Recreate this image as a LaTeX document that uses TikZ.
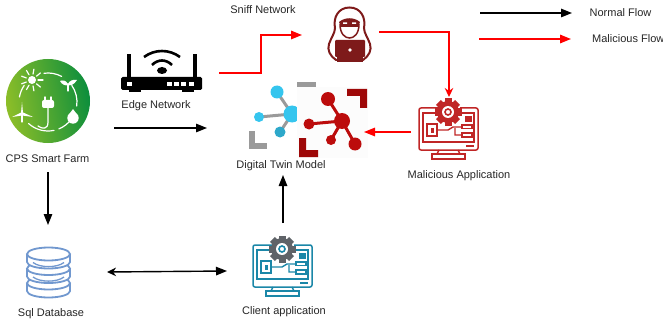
\documentclass[tikz,border=0pt]{standalone}
\usepackage{fontspec}
\setmainfont{Liberation Sans}
\usepackage{xcolor}
\usetikzlibrary{arrows.meta}
\definecolor{attackred}{HTML}{FF0000}
\definecolor{darkhood}{HTML}{7E1A1A}
\definecolor{twinblue}{HTML}{35C5EE}
\definecolor{twinred}{HTML}{BC0C0C}
\definecolor{cornerred}{HTML}{9E0808}
\definecolor{cornergray}{HTML}{9A9A9A}
\definecolor{dbblue}{HTML}{7198CF}
\definecolor{clientblue}{HTML}{1B87A8}
\definecolor{gearsgray}{HTML}{5F6368}
\definecolor{malred}{HTML}{C02626}
\definecolor{farmlight}{HTML}{8DBE28}
\definecolor{farmdark}{HTML}{0C8E3C}
\tikzset{%
  tipA/.tip={Triangle[length=11pt,width=8.5pt]},
  tipB/.tip={Stealth[length=9pt,width=8.5pt]},
  flow/.style={black,line width=1.4pt,-tipA},
  badflow/.style={attackred,line width=1.5pt,-tipA},
  lbl/.style={text=black!85,font=\fontsize{11}{13}\selectfont,inner sep=0pt},
  pics/appicon/.style 2 args={code={
    % monitor with the gear on top, origin is its top left corner
    \draw[#1,line width=1.5pt,rounded corners=2pt] (20,1) -- (1,1) -- (1,43) -- (60,43) -- (60,1) -- (42,1);
    \draw[#1,line width=1.5pt] (18,6) -- (5,6) -- (5,35) -- (56,35) -- (56,6) -- (44,6) (48,39) -- (56,39);
    \draw[#1,line width=1.8pt] (9,17) rectangle (19,29);
    \fill[#1] (12.5,21) rectangle (15.5,26);
    \draw[#1,line width=1.4pt] (19,23) -- (30,23) -- (35,20) -- (44,20) (37,21) -- (37,28) -- (44,28);
    \draw[#1,line width=1.4pt] (44,18) rectangle (54,21.5) (44,26) rectangle (54,30);
    \fill[#1] (47,9) rectangle (54,15);
    \draw[#1,line width=1.5pt] (21,43) -- (19,47) (40,43) -- (42,47);
    \draw[#1,line width=1.8pt] (14,47) rectangle (47,52);
    \foreach \a in {0,45,...,315}
      \fill[#2,rotate around={\a:(30,5)}] (26.5,-8.5) rectangle (33.5,5);
    \fill[#2] (30,5) circle (11);
    \fill[white] (30,5) circle (6);
    \draw[#1,line width=1.6pt] (30,5) circle (3);
  }},
}

\begin{document}
\begin{tikzpicture}[x=1pt,y=-1pt]
\useasboundingbox (0,0) rectangle (663,326);
% smart farm
\shade[left color=farmlight,right color=farmdark,shading angle=100] (48,101) circle (42);
\begin{scope}[white,line width=1.2pt,line cap=round]
\foreach \s/\e in {-98/-62,-35/8,35/68,78/132,-170/-145} \draw (48,102) ++(\s:29) arc[start angle=\s,end angle=\e,radius=29];
\fill (32,80) circle (4);
\foreach \a in {0,40,...,320} \draw (32,80) ++(\a:6) -- ++(\a:5);
\fill (68,84) .. controls (66,80) and (62,80) .. (60,81) .. controls (62,85) and (66,86) .. (68,85) .. controls (70,86) and (74,85) .. (77,80) .. controls (73,79) and (69,81) .. (68,84) -- cycle;
\draw (68,84) -- (68,91);
\fill[rounded corners=2pt] (42,100) rectangle (54,108);
\draw[line width=1.4pt] (45,97) -- (45,100) (51,97) -- (51,100);
\draw[line width=1.2pt] (48,108) -- (48,122) .. controls (48,130) and (42,129) .. (38,126);
\fill (22,102) -- (23,113) -- (21,113) -- cycle;
\fill (12,117) -- (22,112) -- (33,117) -- (22,115.5) -- cycle;
\draw (22,114) -- (22,122);
\fill (73,109) -- (67.8,116) -- (78.2,116) -- cycle;
\fill (73,118) circle (5.7);
\end{scope}
\node[lbl] (farmlabel) at (47.5,159) {CPS Smart Farm};
% router
\fill[black,rounded corners=1.5pt] (121,77) rectangle (202,90);
\fill (127,54) rectangle (131,78);
\fill (193,54) rectangle (197,78);
\fill (129,90) rectangle (141,92);
\fill (182,90) rectangle (194,92);
\fill[white] (127,82) rectangle (132,86);
\foreach \x in {167,174,181,189} \fill[white] (\x,82) rectangle (\x+5,86);
\fill (162,70.5) ellipse (5 and 3.5);
\draw[line width=2.6pt] (144,57) .. controls (155,49) and (169,49) .. (180,57);
\draw[line width=2.6pt] (152,65) .. controls (158,59) and (166,59) .. (172,65);
\node[lbl] (edgelabel) at (156,106) {Edge Network};
% twin model, blue half under the red one
\draw[cornergray,line width=6.5pt] (252,131) -- (252,146) -- (267,146);
\fill[cornergray] (297,82) rectangle (316,87);
\draw[cornergray,line width=3pt] (277,92) -- (292,114) -- (259,117) (292,114) -- (280,132);
\fill[twinblue] (292,114) circle (8.5) (277,92) circle (6.5) (259,117) circle (5);
\fill[twinblue!85!black] (280,132) circle (5.5);
\fill[black!1] (297,87) rectangle (368,158);
\fill[cornerred] (347,89) -- (367,89) -- (367,108) -- (360,108) -- (360,96) -- (347,96) -- cycle;
\fill[cornerred] (299,138) -- (306,138) -- (306,150) -- (318,150) -- (318,157) -- (299,157) -- cycle;
\draw[twinred,line width=3pt] (328,99) -- (342,121) -- (309,124) (342,121) -- (331,140) (342,121) -- (355,144);
\fill[twinred] (342,121) circle (8) (328,99) circle (7) (309,124) circle (5.5) (331,140) circle (5) (355,144) circle (6.5);
\node[lbl] (twinlabel) at (281,166) {Digital Twin Model};
% attacker
\begin{scope}[darkhood]
\draw[line width=2pt,fill=white] (349.5,7.5) .. controls (338,7.5) and (333,18) .. (335,28) .. controls (335,33) and (331,38) .. (329,44) .. controls (327,50) and (330,56) .. (336,60) -- (363,60) .. controls (369,56) and (372,50) .. (370,44) .. controls (368,38) and (364,33) .. (364,28) .. controls (366,18) and (361,7.5) .. (349.5,7.5) -- cycle;
\draw[line width=1.5pt] (340,24) .. controls (340,34) and (345,38) .. (349.5,38) .. controls (354,38) and (359,34) .. (359,24);
\fill (339,22) .. controls (345,17) and (354,17) .. (360,22) -- (358,27) -- (341,27) -- cycle;
\fill[white] (343,22.5) rectangle (347,24) (352,22.5) rectangle (356,24);
\fill[rounded corners=1pt] (335,40) rectangle (365,57);
\fill (337,57) rectangle (363,62);
\fill[white] (350,50) circle (1.8);
\end{scope}
% the two applications
\pic at (418,107) {appicon={malred}{malred}};
\pic at (252,244) {appicon={clientblue}{gearsgray}};
\node[lbl] (mallabel) at (459,176) {Malicious Application};
\node[lbl] (clientlabel) at (284,312) {Client application};
% database
\begin{scope}[dbblue,line width=1.8pt]
\foreach \y in {283,268.5,254} {
  \draw[fill=white] (27,\y) -- (27,\y+8) arc[start angle=180,end angle=0,x radius=21.5,y radius=6.5] -- (70,\y);
  \draw[fill=white] (48.5,\y) ellipse (21.5 and 6.5);
}
\draw[line width=1.3pt] (33,262.5) .. controls (40,268) and (57,268) .. (64,262.5);
\draw[line width=1.3pt] (33,277) .. controls (40,282.5) and (57,282.5) .. (64,277);
\end{scope}
\node[lbl] (dblabel) at (51,314) {Sql Database};
% texts on top and key
\node[lbl] (snifflabel) at (263,10) {Sniff Network};
\node[lbl] (normallabel) at (620.5,12.5) {Normal Flow};
\node[lbl,anchor=west] (badlabel) at (592,39) {Malicious Flow};
% connector ends
\coordinate (farmbottom) at (48,172);
\coordinate (dbtop) at (48,225);
\coordinate (farmright) at (114,128);
\coordinate (twinleft) at (207,128);
\coordinate (edgeright) at (219,73);
\coordinate (hackerleft) at (302,35);
\coordinate (hackerright) at (379,32);
\coordinate (maltop) at (449,97);
\coordinate (malleft) at (411,132);
\coordinate (twinright) at (364,132);
\coordinate (clienttop) at (283,223);
\coordinate (twinbottom) at (283,175);
\coordinate (dbright) at (107,272);
\coordinate (clientleft) at (227,271);
\coordinate (keyA) at (480,13);
\coordinate (keyB) at (572,13);
\coordinate (keyC) at (479,39);
\coordinate (keyD) at (571,39);
\draw[flow] (farmbottom) -- (dbtop);
\draw[flow] (farmright) -- (twinleft);
\draw[flow] (clienttop) -- (twinbottom);
\draw[black,line width=1.4pt,tipB-tipA] (dbright) -- (clientleft);
\draw[badflow] (edgeright) -- (261,73) -- (261,35) -- (hackerleft);
\draw[attackred,line width=1.5pt,-tipB] (hackerright) -- (449,32) -- (maltop);
\draw[badflow] (malleft) -- (twinright);
\draw[flow] (keyA) -- (keyB);
\draw[badflow] (keyC) -- (keyD);
\end{tikzpicture}
\end{document}
